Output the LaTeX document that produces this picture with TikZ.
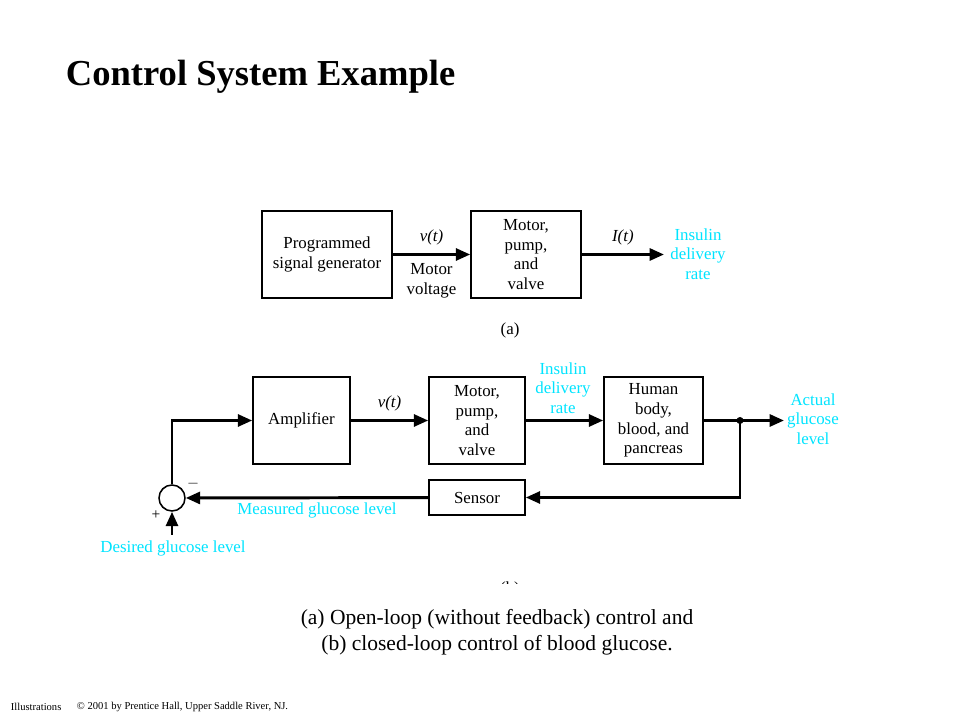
\documentclass[tikz,border=0pt]{standalone}
\usepackage{fontspec}
\setmainfont{Liberation Serif}
\usetikzlibrary{arrows.meta}
\definecolor{glucosecyan}{RGB}{0,228,255}
\tikzset{
  block/.style={draw, line width=1.1pt, align=center, font=\fontsize{12}{14}\selectfont, inner sep=0pt},
  sig/.style={line width=2.1pt, -{Triangle[length=0.36cm, width=0.3cm]}},
  sigtext/.style={font=\fontsize{12}{14}\selectfont},
  cyantext/.style={text=glucosecyan, align=center, font=\fontsize{12}{14}\selectfont}
}
\begin{document}
\begin{tikzpicture}[x=0.025cm, y=-0.025cm]
  \useasboundingbox (0,0) rectangle (960,720);
  \node[anchor=west, font=\fontsize{26}{30}\selectfont\bfseries] (title) at (61,77) {Control System Example};

  \node[block, minimum width=3.25cm, minimum height=2.175cm] (prog) at (327,254.5) {Programmed\\signal generator};
  \node[block, minimum width=2.75cm, minimum height=2.175cm] (motA) at (526,254.5) {Motor,\\pump,\\and\\valve};
  \coordinate (outA) at (664,254.5);
  \draw[sig] (prog) -- node[sigtext, above=2pt] {\itshape v(t)} node[sigtext, below=2pt, align=center] {Motor\\voltage} (motA);
  \draw[sig] (motA) -- node[sigtext, above=2pt] {\itshape I(t)} (outA);
  \node[cyantext] (rateA) at (698,254) {Insulin\\delivery\\rate};
  \node[sigtext] (capA) at (510,330) {(a)};

  \node[block, minimum width=2.425cm, minimum height=2.175cm] (amp) at (301.5,420.5) {Amplifier};
  \node[block, minimum width=2.4cm, minimum height=2.175cm] (motB) at (477,420.5) {Motor,\\pump,\\and\\valve};
  \node[block, minimum width=2.475cm, minimum height=2.175cm] (body) at (653.5,420.5) {Human\\body,\\blood, and\\pancreas};
  \node[block, minimum width=2.4cm, minimum height=0.875cm] (sens) at (477,497.5) {Sensor};
  \node[draw, circle, line width=1.1pt, minimum size=0.65cm, inner sep=0pt] (sum) at (172,498) {};
  \coordinate (split) at (740,420.5);
  \coordinate (outB) at (784,420.5);
  \coordinate (desired) at (172,535);

  \draw[sig] (sum.north) |- (amp.west);
  \draw[sig] (amp) -- node[sigtext, above=2pt] {\itshape v(t)} (motB);
  \draw[sig] (motB) -- (body);
  \draw[sig] (body) -- (outB);
  \fill (split) circle (3.5);
  \draw[sig] (split) |- (sens.east);
  \draw[sig] (sens) -- (sum);
  \draw[sig] (desired) -- (sum.south);
  \node[font=\fontsize{11}{13}\selectfont] (minus) at (193,484) {$-$};
  \node[font=\fontsize{11}{13}\selectfont] (plus) at (156,515) {+};

  \node[cyantext] (rateB) at (563,388) {Insulin\\delivery\\rate};
  \node[cyantext] (actual) at (813,419) {Actual\\glucose\\level};
  \node[cyantext] (measured) at (317,510) {Measured glucose level};
  \node[cyantext] (desiredtext) at (173,548) {Desired glucose level};
  \begin{scope}
    \clip (480,560) rectangle (540,583);
    \node[sigtext] (capB) at (510,589) {(b)};
  \end{scope}

  \node[align=center, font=\fontsize{15.3}{18.7}\selectfont] (caption) at (497,632) {(a) Open-loop (without feedback) control and\\(b) closed-loop control of blood glucose.};
  \node[anchor=west, font=\fontsize{7.5}{9}\selectfont] (illus) at (6,707) {Illustrations};
  \node[anchor=west, font=\fontsize{7.5}{9}\selectfont] (copy) at (72,707) {\textcopyright{} 2001 by Prentice Hall, Upper Saddle River, NJ.};
\end{tikzpicture}
\end{document}
